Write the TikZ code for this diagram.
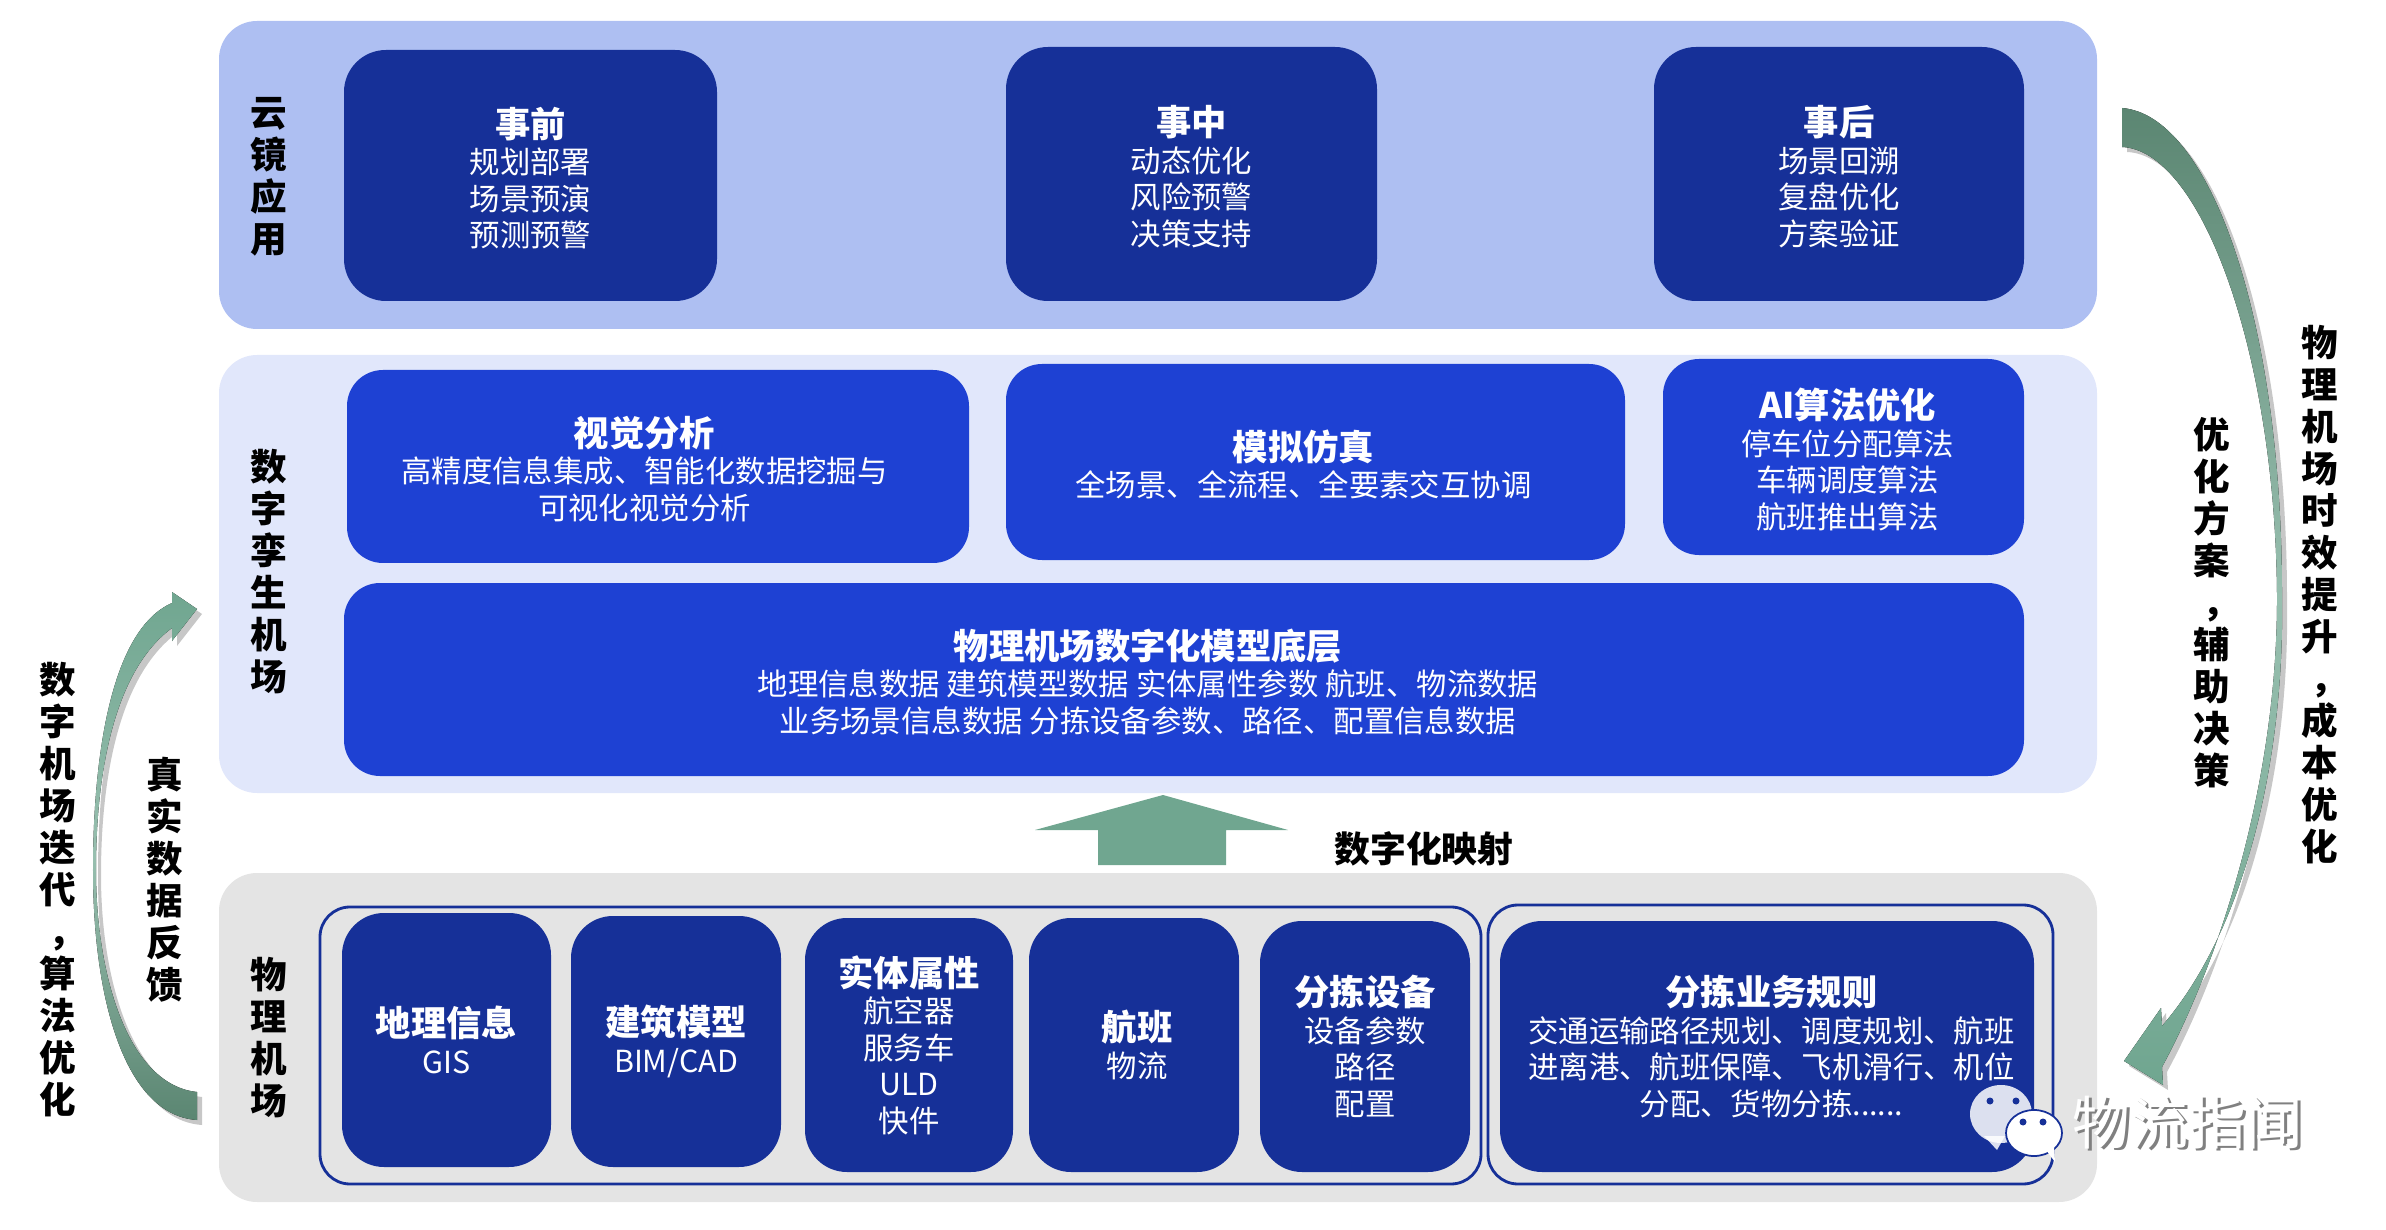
\documentclass[tikz,border=0pt]{standalone}
\usepackage{fontspec}
\setmainfont{Noto Sans CJK SC}
\usepackage{tikz}
\usetikzlibrary{shadows}
\definecolor{bandtop}{HTML}{AEBFF2}
\definecolor{bandmid}{HTML}{E1E7FB}
\definecolor{bandlow}{HTML}{E4E4E4}
\definecolor{deepblue}{HTML}{163098}
\definecolor{midblue}{HTML}{1E41D3}
\definecolor{arrowlight}{HTML}{70A690}
\definecolor{arrowdark}{HTML}{5B8672}
\newcommand{\boxhead}[1]{{\fontsize{10.05}{10.4}\selectfont\bfseries #1}}
\newcommand{\lowhead}[1]{\rule{0pt}{10.1pt}\boxhead{#1}}
\newcommand{\nudge}[1]{\hspace*{#1cm}}
\newcommand{\vcomma}{\hspace*{.5em}，}

\begin{document}
\begin{tikzpicture}[
        band/.style={rounded corners=0.38cm, minimum width=18.78cm, inner sep=0pt},
        deepbox/.style={fill=deepblue, rounded corners=0.42cm, text=white, align=center, inner sep=0pt, font=\fontsize{8.65}{10.4}\selectfont},
        midbox/.style={deepbox, fill=midblue, rounded corners=0.36cm},
        framebox/.style={draw=deepblue, line width=0.8pt, rounded corners=0.3cm, inner sep=0pt},
        sidelabel/.style={align=center, inner sep=0pt, font=\fontsize{10.4}{11.95}\selectfont\bfseries},
        curved/.style={drop shadow={shadow xshift=0.05cm, shadow yshift=-0.05cm, fill=black, opacity=0.22}}
      ]
        \useasboundingbox (0,0) rectangle (23.86,-12.30);

        \node[band, fill=bandtop, minimum height=3.08cm] (cloudband) at (11.58,-1.75) {};
        \node[band, fill=bandmid, minimum height=4.38cm] (twinband) at (11.58,-5.74) {};
        \node[band, fill=bandlow, minimum height=3.29cm] (physband) at (11.58,-10.375) {};

        \node[sidelabel] (cloudlabel) at (2.69,-1.765) {云\\镜\\应\\用};
        \node[sidelabel] (twinlabel) at (2.69,-5.72) {数\\字\\孪\\生\\机\\场};
        \node[sidelabel] (physlabel) at (2.69,-10.38) {物\\理\\机\\场};

        \node[deepbox, minimum width=3.73cm, minimum height=2.51cm] (before) at (5.305,-1.755) {\lowhead{事前}\\规划部署\\场景预演\\预测预警};
        \node[deepbox, minimum width=3.71cm, minimum height=2.54cm] (during) at (11.915,-1.74) {\lowhead{事中}\\动态优化\\风险预警\\决策支持};
        \node[deepbox, minimum width=3.70cm, minimum height=2.54cm] (after) at (18.39,-1.74) {\lowhead{事后}\\场景回溯\\复盘优化\\方案验证};

        \node[midbox, minimum width=6.22cm, minimum height=1.93cm] (vision) at (6.58,-4.665) {\nudge{-0.27}\lowhead{视觉分析}\\\nudge{-0.27}高精度信息集成、智能化数据挖掘与\\\nudge{-0.27}可视化视觉分析};
        \node[midbox, minimum width=6.19cm, minimum height=1.96cm] (simu) at (13.155,-4.62) {\nudge{-0.24}\lowhead{模拟仿真}\\\nudge{-0.24}全场景、全流程、全要素交互协调};
        \node[midbox, minimum width=3.61cm, minimum height=1.96cm] (algo) at (18.435,-4.57) {\nudge{0.08}\lowhead{AI算法优化}\\\nudge{0.08}停车位分配算法\\\nudge{0.08}车辆调度算法\\\nudge{0.08}航班推出算法};
        \node[midbox, minimum width=16.8cm, minimum height=1.93cm] (model) at (11.84,-6.795) {\nudge{-0.72}\lowhead{物理机场数字化模型底层}\\\nudge{-0.72}地理信息数据 建筑模型数据 实体属性参数 航班、物流数据\\\nudge{-0.72}业务场景信息数据 分拣设备参数、路径、配置信息数据};

        \node[framebox, minimum width=11.61cm, minimum height=2.77cm] (frameleft) at (9.005,-10.455) {};
        \node[framebox, minimum width=5.65cm, minimum height=2.79cm] (frameright) at (17.705,-10.445) {};

        \node[deepbox, minimum width=2.09cm, minimum height=2.54cm] (geo) at (4.465,-10.4) {\boxhead{地理信息}\\GIS};
        \node[deepbox, minimum width=2.10cm, minimum height=2.51cm] (bim) at (6.76,-10.415) {\boxhead{建筑模型}\\BIM/CAD};
        \node[deepbox, minimum width=2.08cm, minimum height=2.54cm] (entity) at (9.09,-10.45) {\boxhead{实体属性}\\航空器\\服务车\\ULD\\快件};
        \node[deepbox, minimum width=2.10cm, minimum height=2.54cm] (flight) at (11.34,-10.45) {\nudge{0.06}\boxhead{航班}\\\nudge{0.06}物流};
        \node[deepbox, minimum width=2.10cm, minimum height=2.51cm] (sorter) at (13.65,-10.465) {\boxhead{分拣设备}\\设备参数\\路径\\配置};
        \node[deepbox, minimum width=5.34cm, minimum height=2.51cm] (rules) at (17.67,-10.465) {\nudge{0.09}\boxhead{分拣业务规则}\\\nudge{0.09}交通运输路径规划、调度规划、航班\\\nudge{0.09}进离港、航班保障、飞机滑行、机位\\\nudge{0.09}分配、货物分拣......};

        \fill[arrowlight] (11.63,-7.95) -- (12.88,-8.30) -- (12.26,-8.30) -- (12.26,-8.65) -- (10.98,-8.65) -- (10.98,-8.30) -- (10.35,-8.30) -- cycle;
        \node[font=\fontsize{10.2}{12}\selectfont\bfseries, inner sep=0pt] (maplabel) at (14.24,-8.49) {数字化映射};

        \coordinate (fbtail) at (1.97,-10.92);
        \coordinate (fbtip) at (1.97,-6.09);
        \fill[curved, top color=arrowlight, bottom color=arrowdark, middle color=arrowlight!72!white]
          (fbtail) .. controls (1.30,-10.85) and (0.96,-9.8) .. (0.96,-8.7)
          .. controls (0.96,-7.7) and (1.15,-6.7) .. (1.72,-6.28)
          -- (1.72,-6.41) -- (fbtip) -- (1.72,-5.92) -- (1.72,-6.03)
          .. controls (1.10,-6.3) and (0.93,-7.6) .. (0.93,-8.7)
          .. controls (0.93,-10.0) and (1.25,-11.15) .. (1.97,-11.2) -- cycle;
        \node[sidelabel] (reallabel) at (1.65,-8.8) {真\\实\\数\\据\\反\\馈};
        \node[sidelabel] (iterlabel) at (0.58,-8.9) {数\\字\\机\\场\\迭\\代\\\vcomma\\算\\法\\优\\化};

        \coordinate (opttail) at (21.22,-1.08);
        \coordinate (opttip) at (21.24,-10.61);
        \fill[curved, top color=arrowdark, bottom color=arrowlight, middle color=arrowlight!72!white]
          (opttail) .. controls (22.1,-1.15) and (22.82,-3.2) .. (22.82,-5.94)
          .. controls (22.85,-7.6) and (22.45,-9.3) .. (21.62,-10.26)
          -- (21.61,-10.08) -- (opttip) -- (21.63,-10.85) -- (21.62,-10.67)
          .. controls (22.2,-9.6) and (22.78,-7.8) .. (22.77,-5.94)
          .. controls (22.75,-3.5) and (22.0,-1.5) .. (21.22,-1.47) -- cycle;
        \node[sidelabel] (planlabel) at (22.12,-6.03) {优\\化\\方\\案\\\vcomma\\辅\\助\\决\\策};
        \node[sidelabel] (gainlabel) at (23.20,-5.95) {物\\理\\机\\场\\时\\效\\提\\升\\\vcomma\\成\\本\\优\\化};

        \fill[white, opacity=0.85] (20.01,-11.14) ellipse (0.31cm and 0.29cm);
        \fill[white, opacity=0.85] (19.84,-11.36) -- (19.97,-11.5) -- (20.05,-11.36) -- cycle;
        \fill[deepblue] (19.9,-11.01) circle (0.035cm) (20.16,-11.01) circle (0.035cm);
        \fill[white, draw=deepblue, line width=0.5pt] (20.34,-11.33) ellipse (0.28cm and 0.23cm);
        \fill[white] (20.46,-11.5) -- (20.55,-11.62) -- (20.54,-11.46) -- cycle;
        \fill[deepblue] (20.23,-11.22) circle (0.035cm) (20.43,-11.22) circle (0.035cm);
        \node[font=\fontsize{16.4}{18}\selectfont, text=gray, inner sep=0pt] (markshade) at (21.91,-11.25) {物流指闻};
        \node[font=\fontsize{16.4}{18}\selectfont, text=white, inner sep=0pt] (mark) at (21.88,-11.23) {物流指闻};
      \end{tikzpicture}
\end{document}
